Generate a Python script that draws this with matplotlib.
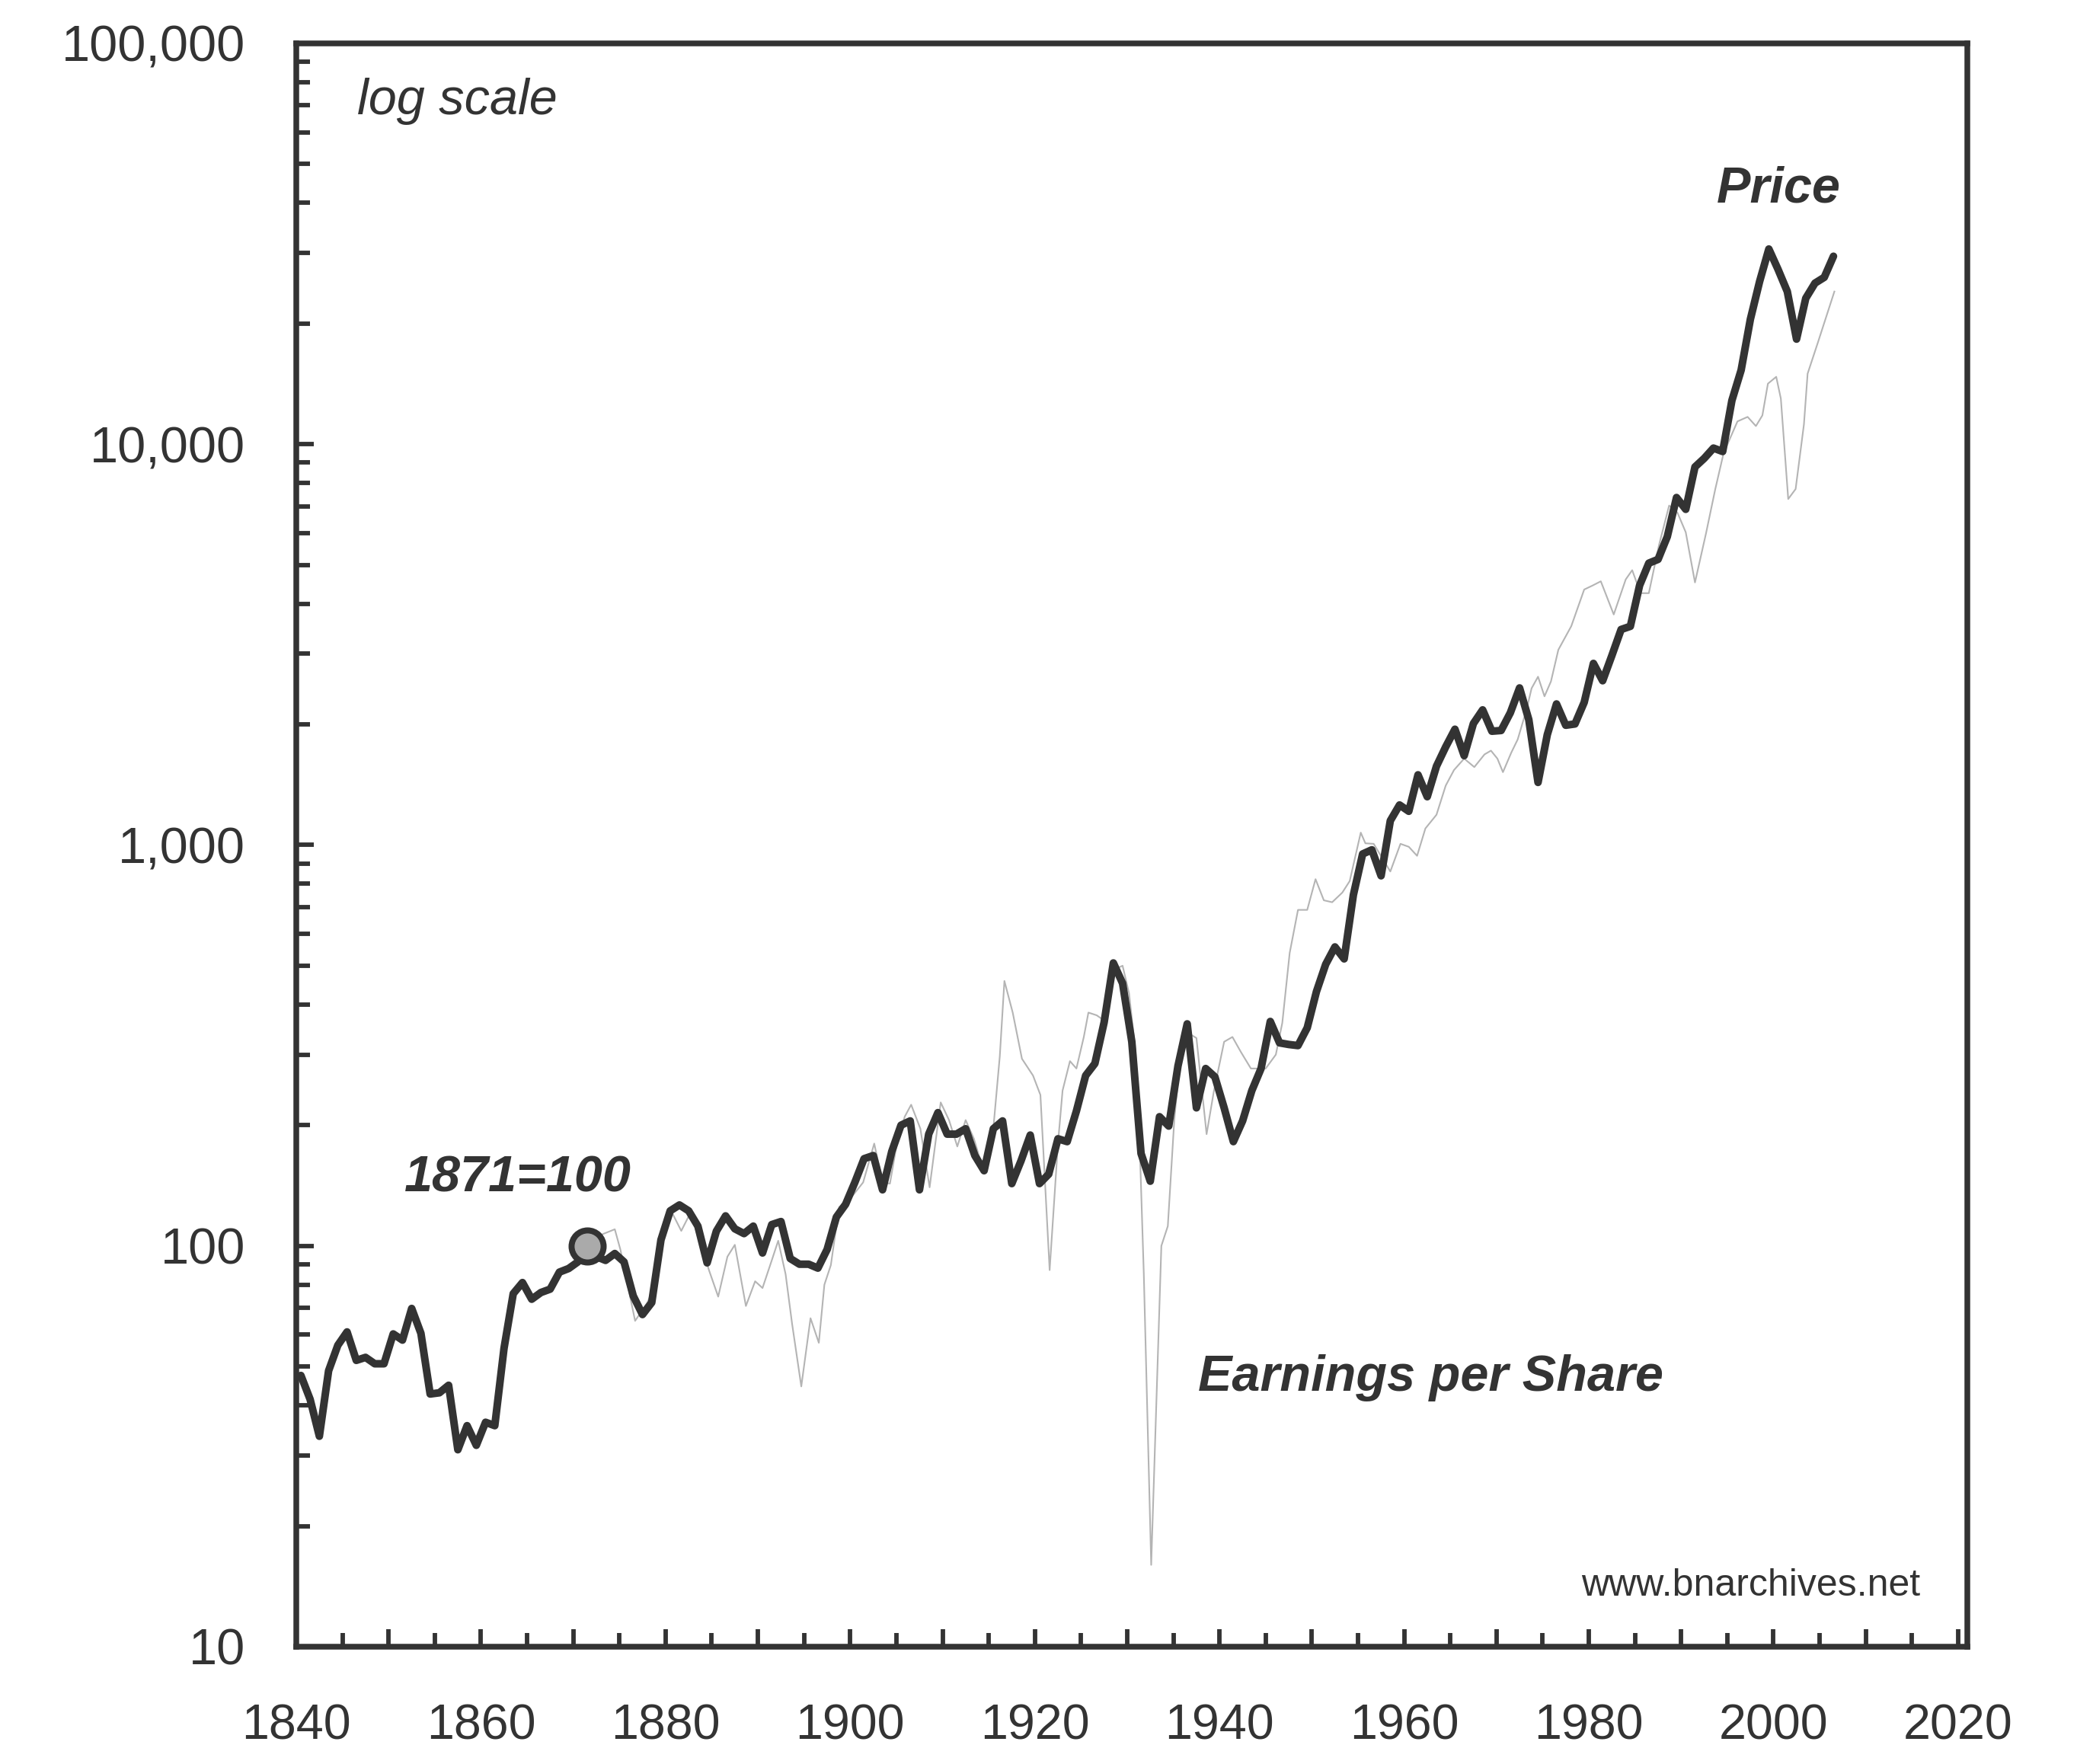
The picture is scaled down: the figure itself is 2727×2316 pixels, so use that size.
import numpy as np
import matplotlib
matplotlib.use("Agg")
import matplotlib.pyplot as plt
from matplotlib.ticker import FixedLocator, FuncFormatter, LogLocator, NullFormatter, MultipleLocator

plt.rcParams['font.family'] = ['Liberation Sans', 'DejaVu Sans']

# price index, 1871 = 100 (annual, drawn at mid-year)
price_years = list(range(1840, 2007))
price = [
    47.5, 41.4, 33.5, 48.8, 56.5, 61, 51.8, 52.7, 50.8, 50.8,          # 1840s
    60.3, 58.2, 69.8, 60.5, 42.7, 43, 44.9, 31, 35.6, 31.8,            # 1850s
    36.3, 35.6, 55.5, 76, 81, 73.6, 76.5, 78, 86, 87.8,                # 1860s
    91.2, 100, 94, 92, 95.7, 91.2, 75, 67.4, 72.2, 103.5,              # 1870s
    122.3, 126.5, 122.3, 112, 90.7, 108.8, 118.8, 110.3, 107.3, 112,   # 1880s
    96, 113, 115, 93, 90, 90, 88, 98, 118, 127,                        # 1890s
    144, 165, 168, 138, 172, 200, 205, 138, 190, 215,                  # 1900s
    190, 190, 196, 168, 154, 196, 205, 143, 163, 189,                  # 1910s
    143, 151, 185, 182, 217, 266, 285, 361, 508, 452,                  # 1920s
    323, 170, 145, 210, 199, 281, 358, 221, 277, 264,                  # 1930s
    221, 182, 205, 244, 277, 363, 321, 318, 316, 350,                  # 1940s
    431, 504, 557, 520, 751, 950, 973, 838, 1150, 1259,                # 1950s
    1214, 1497, 1320, 1573, 1758, 1945, 1671, 2010, 2174, 1923,        # 1960s
    1931, 2138, 2466, 2055, 1433, 1884, 2249, 1990, 2005, 2270,        # 1970s
    2839, 2570, 2971, 3450, 3513, 4443, 5050, 5160, 5880, 7362,        # 1980s
    6880, 8777, 9220, 9780, 9590, 12860, 15310, 20500, 25470, 30690,   # 1990s
    27290, 24040, 18290, 23130, 25230, 26080, 29440,                   # 2000s
]

# earnings per share, same base
eps_years = [
    1871.4, 1873.2, 1874.5, 1875.1, 1876.7, 1878.0, 1878.9, 1879.6, 1880.7, 1881.7,
    1882.7, 1884.7, 1885.7, 1886.7, 1887.5, 1888.7, 1889.7, 1890.5, 1891.5, 1892.2,
    1893.0, 1893.7, 1894.7, 1895.7, 1896.6, 1897.2, 1897.9, 1898.8, 1900.1, 1901.4,
    1902.6, 1903.5, 1904.3, 1905.0, 1905.9, 1906.6, 1907.6, 1908.6, 1909.8, 1910.7,
    1911.6, 1912.5, 1913.4, 1914.5, 1915.4, 1916.2, 1916.7, 1917.6, 1918.6, 1919.8,
    1920.6, 1921.6, 1922.5, 1923.0, 1923.8, 1924.5, 1925.3, 1925.8, 1926.7, 1927.5,
    1928.7, 1929.5, 1930.2, 1930.9, 1931.3, 1931.8, 1932.2, 1932.6, 1933.1, 1933.7,
    1934.4, 1935.1, 1935.7, 1936.4, 1937.5, 1938.6, 1939.4, 1940.5, 1941.4, 1942.3,
    1943.4, 1945.0, 1946.1, 1946.8, 1947.6, 1948.5, 1949.5, 1950.4, 1951.3, 1952.2,
    1953.3, 1954.1, 1955.3, 1955.8, 1956.7, 1958.5, 1959.6, 1960.5, 1961.4, 1962.3,
    1963.5, 1964.5, 1965.4, 1966.5, 1967.6, 1968.7, 1969.4, 1970.1, 1970.7, 1971.6,
    1972.3, 1973.3, 1973.8, 1974.5, 1975.2, 1975.9, 1976.7, 1978.1, 1979.5, 1980.4,
    1981.3, 1982.7, 1984.0, 1984.7, 1985.6, 1986.5, 1987.6, 1988.7, 1989.6, 1990.5,
    1991.5, 1992.7, 1993.7, 1994.6, 1996.1, 1997.2, 1998.1, 1998.8, 1999.4, 2000.3,
    2000.8, 2001.6, 2002.4, 2003.3, 2003.7, 2004.8, 2006.6,
]
eps = [
    100, 107, 110, 98, 65, 72, 80, 106, 121, 109,
    121, 87, 74.7, 94, 100.6, 70.8, 81.6, 78.5, 92, 103,
    85, 64, 44.6, 66, 57.3, 80, 89.5, 125, 132, 144,
    180, 144, 143, 177, 210, 225, 196, 140, 228, 206,
    177, 206, 185, 152, 185, 297, 458, 382, 293, 266,
    238, 87, 180, 244, 289, 277, 332, 382, 376, 365,
    490, 500, 427, 305, 196, 85, 37, 16, 37, 100,
    112, 206, 289, 342, 330, 190, 244, 323, 332, 305,
    277, 277, 300, 360, 538, 689, 689, 822, 728, 720,
    761, 813, 1074, 1010, 1007, 859, 1007, 990, 940, 1100,
    1190, 1407, 1539, 1643, 1565, 1683, 1720, 1643, 1520, 1700,
    1835, 2196, 2460, 2630, 2350, 2560, 3070, 3516, 4340, 4440,
    4550, 3760, 4600, 4850, 4250, 4250, 5600, 7030, 6750, 6030,
    4520, 6000, 7730, 9500, 11400, 11700, 11100, 11800, 14160, 14730,
    13000, 7300, 7730, 11200, 15000, 17900, 24040,
]

base_year = 1871
base_value = 100
y_ticks = [10, 100, 1000, 10000, 100000]
y_labels = ['10', '100', '1,000', '10,000', '100,000']

dark = '#333333'

fig = plt.figure(figsize=(9.09, 7.72), dpi=300)
ax = fig.add_axes([0.14265, 0.0665, 0.80455, 0.9089])

ax.plot(eps_years, eps, color='#b4b4b4', lw=0.5, zorder=2)
ax.plot(np.array(price_years) + 0.5, price, color=dark, lw=2.4, zorder=3,
        solid_joinstyle='round', solid_capstyle='round')
ax.plot([base_year + 0.5], [base_value], 'o', ms=10.1, mfc='#aaaaaa', mec=dark,
        mew=1.9, zorder=5)

ax.set_yscale('log')
ax.set_xlim(1840, 2021)
ax.set_ylim(10, 100000)

ax.yaxis.set_major_locator(FixedLocator(y_ticks))
ax.yaxis.set_major_formatter(FuncFormatter(lambda v, p: y_labels[y_ticks.index(round(v))] if round(v) in y_ticks else ''))
ax.yaxis.set_minor_locator(LogLocator(base=10, subs=np.arange(2, 10)))
ax.yaxis.set_minor_formatter(NullFormatter())

ax.xaxis.set_major_locator(MultipleLocator(10))
ax.xaxis.set_major_formatter(FuncFormatter(lambda v, p: str(int(round(v))) if round(v) % 20 == 0 else ''))
ax.xaxis.set_minor_locator(MultipleLocator(5))

ax.tick_params(axis='both', which='both', direction='in', color=dark,
               labelcolor=dark, top=False, right=False)
ax.tick_params(axis='both', which='major', length=5.5, width=1.4)
ax.tick_params(axis='both', which='minor', length=4.3, width=1.4)
ax.tick_params(axis='y', which='major', pad=16, labelsize=16)
ax.tick_params(axis='x', which='major', pad=18, labelsize=15.5)

for s in ax.spines.values():
    s.set_color(dark)
    s.set_linewidth(1.8)

ax.text(0.0364, 0.964, 'log scale', transform=ax.transAxes, fontsize=16,
        style='italic', color=dark, ha='left', va='center')
ax.text(0.924, 0.909, 'Price', transform=ax.transAxes, fontsize=16,
        style='italic', weight='bold', color=dark, ha='right', va='center')
ax.text(0.5396, 0.1677, 'Earnings per Share', transform=ax.transAxes,
        fontsize=16, style='italic', weight='bold', color=dark,
        ha='left', va='center')
ax.text(0.1324, 0.2917, '1871=100', transform=ax.transAxes, fontsize=16,
        style='italic', weight='bold', color=dark, ha='center', va='center')
ax.text(0.972, 0.038, 'www.bnarchives.net', transform=ax.transAxes,
        fontsize=12, color=dark, ha='right', va='center')

fig.savefig('out.png', dpi=300)
